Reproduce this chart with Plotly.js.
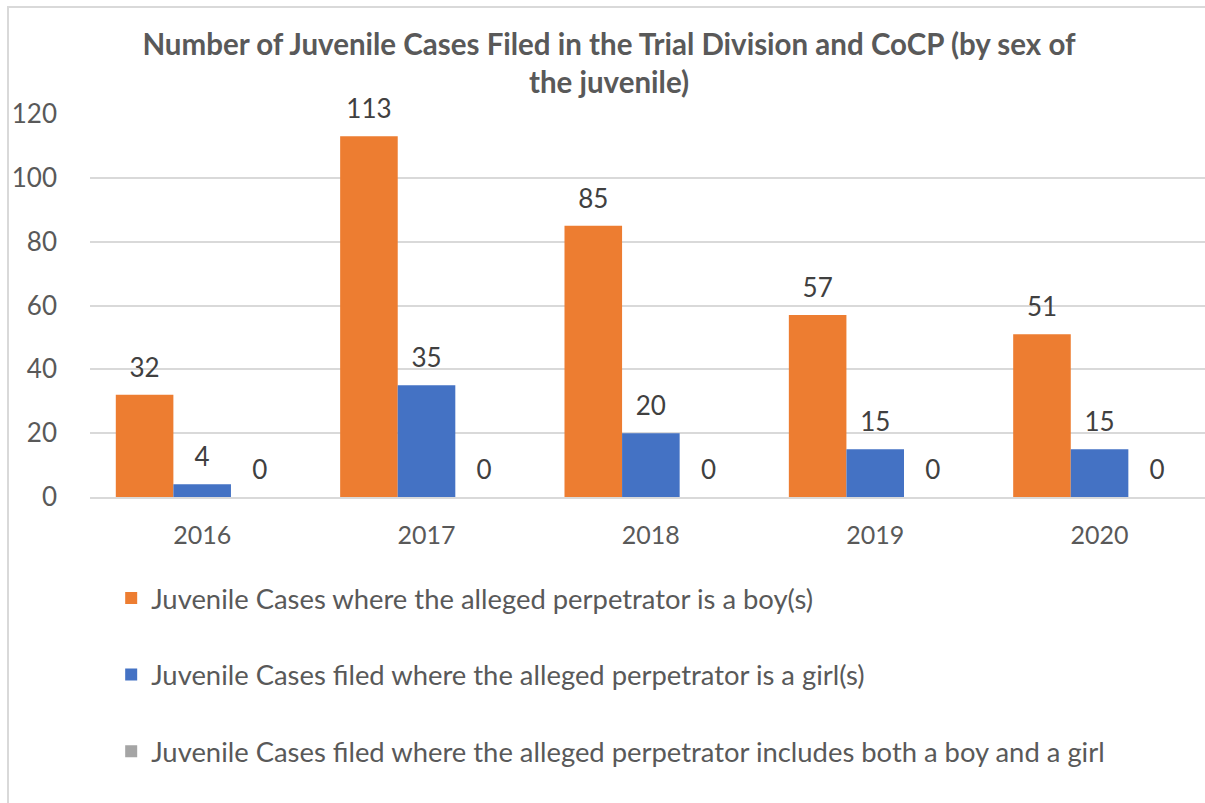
<!DOCTYPE html>
<html>
<head>
<meta charset="utf-8">
<script src="https://cdn.plot.ly/plotly-3.0.1.min.js"></script>
<style>
  html, body { margin: 0; padding: 0; overflow: hidden; background: #fff; }
  #frame { position: absolute; left: 7px; top: 6px; width: 1300px; height: 900px;
           border-left: 2px solid #d9d9d9; border-top: 2px solid #d9d9d9; pointer-events: none; }
  #chart { position: absolute; left: 0; top: 0; width: 1205px; height: 803px; }
</style>
</head>
<body>
<div id="chart"></div>
<div id="frame"></div>
<script>
// ---- data ----
const years = ["2016", "2017", "2018", "2019", "2020"];
const boys  = [32, 113, 85, 57, 51];
const girls = [4, 35, 20, 15, 15];
const both  = [0, 0, 0, 0, 0];

const seriesNames = [
  "Juvenile Cases where the alleged perpetrator is a boy(s)",
  "Juvenile Cases filed where the alleged perpetrator is a girl(s)",
  "Juvenile Cases filed where the alleged perpetrator includes both a boy and a girl"
];
const seriesColors = ["#ED7D31", "#4472C4", "#A5A5A5"];

const yTicks = [0, 20, 40, 60, 80, 100, 120];

const FONT = "Lato, 'Open Sans', sans-serif";

function makeTrace(vals, i){
  return {
    type: "bar",
    x: years,
    y: vals,
    name: seriesNames[i],
    legendgroup: "g" + i,
    marker: { color: seriesColors[i] },
    // small blank second line lifts the label off the bar, like Excel does
    texttemplate: "<span style='font-size:26px'>%{y}</span><br> ",
    textposition: "outside",
    textfont: { family: FONT, size: 10, color: "#404040" },
    cliponaxis: false,
    hoverinfo: "x+y"
  };
}

const data = [boys, girls, both].map(makeTrace);

const layout = {
  width: 1205,
  height: 803,
  margin: { l: 90, r: 0, t: 114, b: 306 },
  paper_bgcolor: "rgba(0,0,0,0)",
  plot_bgcolor: "rgba(0,0,0,0)",
  font: { family: FONT, color: "#595959" },
  title: {
    text: "<b>Number of Juvenile Cases Filed in the Trial Division and CoCP (by sex of<br>the juvenile)</b>",
    font: { family: FONT, size: 29.5, color: "#595959" },
    x: 609 / 1205,
    xanchor: "center",
    y: 1 - 55 / 803,
    yanchor: "top"
  },
  barmode: "group",
  bargap: 0.23,
  bargroupgap: 0,
  uniformtext: { mode: false },
  xaxis: {
    type: "category",
    range: [-0.5, 4.47],
    showgrid: false,
    showline: true,
    linecolor: "#d9d9d9",
    linewidth: 2,
    ticks: "",
    ticklabelstandoff: 15,
    tickfont: { family: FONT, size: 25, color: "#595959" },
    fixedrange: true
  },
  yaxis: {
    range: [0, 120],
    tickvals: yTicks,
    showgrid: true,
    gridcolor: "#d9d9d9",
    gridwidth: 2,
    zeroline: false,
    showline: false,
    ticks: "",
    ticklabelstandoff: 32,
    tickfont: { family: FONT, size: 26, color: "#595959" },
    fixedrange: true
  },
  showlegend: true,
  legend: {
    orientation: "v",
    x: 0.019,
    xanchor: "left",
    y: -0.2,
    yanchor: "top",
    tracegroupgap: 38,
    font: { family: FONT, size: 27.4, color: "#595959" },
    bgcolor: "rgba(0,0,0,0)"
  }
};

Plotly.newPlot("chart", data, layout, { displayModeBar: false, staticPlot: true });
</script>
</body>
</html>
